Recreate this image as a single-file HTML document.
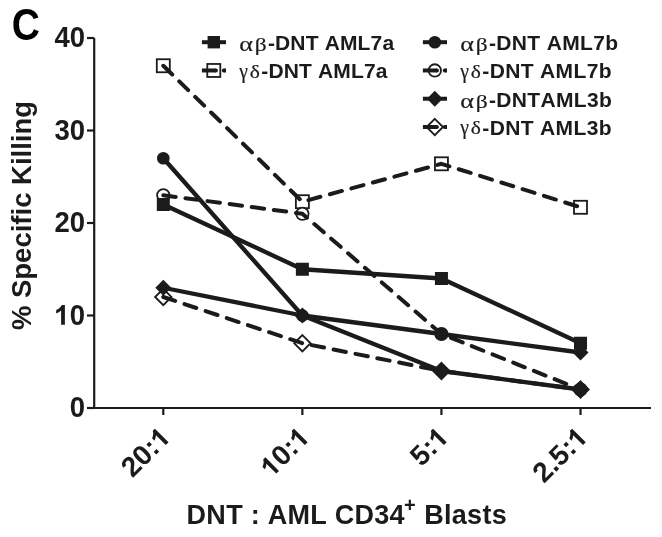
<!DOCTYPE html>
<html><head><meta charset="utf-8"><style>
html,body{margin:0;padding:0;background:#fff;}
svg{display:block;will-change:transform;}
text{fill:#1c1a1a;font-kerning:none;}
.b{font-family:"Liberation Sans",sans-serif;font-weight:bold;}
.g{font-family:"Liberation Serif",serif;font-weight:normal;stroke:#1c1a1a;stroke-width:0.2px;}
</style></head><body>
<svg width="662" height="537" viewBox="0 0 662 537">
<rect width="662" height="537" fill="#fff"/>
<text transform="translate(11.8,40.2) scale(0.95,1.1)" class="b" font-size="41" style="fill:#000">C</text>
<text transform="translate(30.5,215.5) rotate(-90)" text-anchor="middle" class="b" font-size="27.5">% Specific Killing</text>
<path d="M94.2 38 V408 H651" fill="none" stroke="#1c1a1a" stroke-width="2.2"/><line x1="87" y1="408.00" x2="94.2" y2="408.00" stroke="#1c1a1a" stroke-width="2.2"/><line x1="87" y1="315.50" x2="94.2" y2="315.50" stroke="#1c1a1a" stroke-width="2.2"/><line x1="87" y1="223.00" x2="94.2" y2="223.00" stroke="#1c1a1a" stroke-width="2.2"/><line x1="87" y1="130.50" x2="94.2" y2="130.50" stroke="#1c1a1a" stroke-width="2.2"/><line x1="87" y1="38.00" x2="94.2" y2="38.00" stroke="#1c1a1a" stroke-width="2.2"/><line x1="163.30" y1="408" x2="163.30" y2="415" stroke="#1c1a1a" stroke-width="2.2"/><line x1="302.37" y1="408" x2="302.37" y2="415" stroke="#1c1a1a" stroke-width="2.2"/><line x1="441.44" y1="408" x2="441.44" y2="415" stroke="#1c1a1a" stroke-width="2.2"/><line x1="580.51" y1="408" x2="580.51" y2="415" stroke="#1c1a1a" stroke-width="2.2"/>
<g transform="translate(85.0,417.20) scale(1,1.04)"><text x="-15.29" y="0" class="b" font-size="27.5">0</text></g><g transform="translate(85.0,324.70) scale(1,1.04)"><path d="M780 0H499V1018Q343 877 131 810V1056Q243 1092 374 1189Q505 1287 553 1409H780Z" transform="translate(-30.58,0) scale(0.013428,-0.013428)" fill="#1c1a1a"/><text x="-15.29" y="0" class="b" font-size="27.5">0</text></g><g transform="translate(85.0,232.20) scale(1,1.04)"><text x="-30.58" y="0" class="b" font-size="27.5">20</text></g><g transform="translate(85.0,139.70) scale(1,1.04)"><text x="-30.58" y="0" class="b" font-size="27.5">30</text></g><g transform="translate(85.0,47.20) scale(1,1.04)"><text x="-30.58" y="0" class="b" font-size="27.5">40</text></g>
<g transform="translate(172.00,438.8) rotate(-45) scale(1.0,1.0)"><text x="-56.03" y="0" class="b" font-size="28">20:</text><path d="M780 0H499V1018Q343 877 131 810V1056Q243 1092 374 1189Q505 1287 553 1409H780Z" transform="translate(-15.57,0) scale(0.013672,-0.013672)" fill="#1c1a1a"/></g><g transform="translate(311.07,438.8) rotate(-45) scale(1.0,1.0)"><path d="M780 0H499V1018Q343 877 131 810V1056Q243 1092 374 1189Q505 1287 553 1409H780Z" transform="translate(-56.03,0) scale(0.013672,-0.013672)" fill="#1c1a1a"/><text x="-40.46" y="0" class="b" font-size="28">0:</text><path d="M780 0H499V1018Q343 877 131 810V1056Q243 1092 374 1189Q505 1287 553 1409H780Z" transform="translate(-15.57,0) scale(0.013672,-0.013672)" fill="#1c1a1a"/></g><g transform="translate(450.14,438.8) rotate(-45) scale(1.0,1.0)"><text x="-40.46" y="0" class="b" font-size="28">5:</text><path d="M780 0H499V1018Q343 877 131 810V1056Q243 1092 374 1189Q505 1287 553 1409H780Z" transform="translate(-15.57,0) scale(0.013672,-0.013672)" fill="#1c1a1a"/></g><g transform="translate(589.21,438.8) rotate(-45) scale(1.0,1.0)"><text x="-63.81" y="0" class="b" font-size="28">2.5:</text><path d="M780 0H499V1018Q343 877 131 810V1056Q243 1092 374 1189Q505 1287 553 1409H780Z" transform="translate(-15.57,0) scale(0.013672,-0.013672)" fill="#1c1a1a"/></g>
<text x="186.6" y="523.5" class="b" font-size="27" letter-spacing="0.27">DNT : AML CD34</text><text x="403.9" y="512.4" class="b" font-size="20">+</text><text x="424.2" y="523.5" class="b" font-size="27" letter-spacing="0.3">Blasts</text>
<line x1="201.9" y1="42.2" x2="226.0" y2="42.2" stroke="#1c1a1a" stroke-width="4.0"/><rect x="207.60" y="36.00" width="12.4" height="12.4" fill="#1c1a1a"/><text transform="translate(239.20,51.00) scale(1.243,0.99)" class="g" font-size="21">α</text><text transform="translate(254.70,51.00) scale(1.114,0.91)" class="g" font-size="21">β</text><text x="267.90" y="50.10" class="b" font-size="21" letter-spacing="0.15">-DNT AML7a</text><rect x="207.30" y="63.97" width="13.0" height="13.0" fill="#fff" stroke="#1c1a1a" stroke-width="1.8"/><path d="M201.9 70.47H215.9" stroke="#1c1a1a" stroke-width="4.0" stroke-linecap="butt"/><circle cx="215.9" cy="70.47" r="2.0" fill="#1c1a1a"/><path d="M223.8 70.47H226.0" stroke="#1c1a1a" stroke-width="4.0"/><circle cx="223.8" cy="70.47" r="2.0" fill="#1c1a1a"/><text transform="translate(239.30,77.67) scale(0.929,1.005)" class="g" font-size="21">γ</text><text transform="translate(249.70,77.67) scale(1.024,0.895)" class="g" font-size="21">δ</text><text x="261.30" y="78.37" class="b" font-size="21" letter-spacing="0.15">-DNT AML7a</text><line x1="422.9" y1="42.2" x2="447.0" y2="42.2" stroke="#1c1a1a" stroke-width="4.0"/><circle cx="434.80" cy="42.20" r="6.3" fill="#1c1a1a"/><text transform="translate(460.20,51.00) scale(1.243,0.99)" class="g" font-size="21">α</text><text transform="translate(475.70,51.00) scale(1.114,0.91)" class="g" font-size="21">β</text><text x="488.90" y="50.10" class="b" font-size="21" letter-spacing="0.36">-DNT AML7b</text><circle cx="434.80" cy="70.47" r="6.2" fill="#fff" stroke="#1c1a1a" stroke-width="1.8"/><path d="M422.9 70.47H436.9" stroke="#1c1a1a" stroke-width="4.0" stroke-linecap="butt"/><circle cx="436.9" cy="70.47" r="2.0" fill="#1c1a1a"/><path d="M444.8 70.47H447.0" stroke="#1c1a1a" stroke-width="4.0"/><circle cx="444.8" cy="70.47" r="2.0" fill="#1c1a1a"/><text transform="translate(460.30,77.67) scale(0.929,1.005)" class="g" font-size="21">γ</text><text transform="translate(470.70,77.67) scale(1.024,0.895)" class="g" font-size="21">δ</text><text x="482.30" y="78.37" class="b" font-size="21" letter-spacing="0.36">-DNT AML7b</text><line x1="422.9" y1="98.74000000000001" x2="447.0" y2="98.74000000000001" stroke="#1c1a1a" stroke-width="4.0"/><path d="M434.80 90.84L442.70 98.74L434.80 106.64L426.90 98.74Z" fill="#1c1a1a"/><text transform="translate(460.20,107.54) scale(1.243,0.99)" class="g" font-size="21">α</text><text transform="translate(475.70,107.54) scale(1.114,0.91)" class="g" font-size="21">β</text><text x="488.90" y="106.64" class="b" font-size="21" letter-spacing="0.36">-DNTAML3b</text><path d="M434.80 118.81L443.00 127.01L434.80 135.21L426.60 127.01Z" fill="#fff" stroke="#1c1a1a" stroke-width="1.8"/><path d="M422.9 127.01H436.9" stroke="#1c1a1a" stroke-width="4.0" stroke-linecap="butt"/><circle cx="436.9" cy="127.01" r="2.0" fill="#1c1a1a"/><path d="M444.8 127.01H447.0" stroke="#1c1a1a" stroke-width="4.0"/><circle cx="444.8" cy="127.01" r="2.0" fill="#1c1a1a"/><text transform="translate(460.30,134.21) scale(0.929,1.005)" class="g" font-size="21">γ</text><text transform="translate(470.70,134.21) scale(1.024,0.895)" class="g" font-size="21">δ</text><text x="482.30" y="134.91" class="b" font-size="21" letter-spacing="0.36">-DNT AML3b</text>
<rect x="156.80" y="59.25" width="13.0" height="13.0" fill="#fff" stroke="#1c1a1a" stroke-width="1.8"/><rect x="295.87" y="195.22" width="13.0" height="13.0" fill="#fff" stroke="#1c1a1a" stroke-width="1.8"/><rect x="434.94" y="157.30" width="13.0" height="13.0" fill="#fff" stroke="#1c1a1a" stroke-width="1.8"/><rect x="574.01" y="200.78" width="13.0" height="13.0" fill="#fff" stroke="#1c1a1a" stroke-width="1.8"/><circle cx="163.30" cy="195.25" r="6.2" fill="#fff" stroke="#1c1a1a" stroke-width="1.8"/><circle cx="302.37" cy="213.75" r="6.2" fill="#fff" stroke="#1c1a1a" stroke-width="1.8"/><circle cx="441.44" cy="334.00" r="6.2" fill="#fff" stroke="#1c1a1a" stroke-width="1.8"/><circle cx="580.51" cy="389.50" r="6.2" fill="#fff" stroke="#1c1a1a" stroke-width="1.8"/><path d="M163.30 288.80L171.50 297.00L163.30 305.20L155.10 297.00Z" fill="#fff" stroke="#1c1a1a" stroke-width="1.8"/><path d="M302.37 335.05L310.57 343.25L302.37 351.45L294.17 343.25Z" fill="#fff" stroke="#1c1a1a" stroke-width="1.8"/><path d="M441.44 362.80L449.64 371.00L441.44 379.20L433.24 371.00Z" fill="#fff" stroke="#1c1a1a" stroke-width="1.8"/><path d="M580.51 381.30L588.71 389.50L580.51 397.70L572.31 389.50Z" fill="#fff" stroke="#1c1a1a" stroke-width="1.8"/>
<polyline points="163.30,65.75 302.37,201.72 441.44,163.80 580.51,207.28" fill="none" stroke="#1c1a1a" stroke-width="4.0" stroke-dasharray="12.5 9.8" stroke-linecap="round" stroke-linejoin="round"/><polyline points="163.30,195.25 302.37,213.75 441.44,334.00 580.51,389.50" fill="none" stroke="#1c1a1a" stroke-width="4.0" stroke-dasharray="12.5 9.8" stroke-linecap="round" stroke-linejoin="round"/><polyline points="163.30,297.00 302.37,343.25 441.44,371.00 580.51,389.50" fill="none" stroke="#1c1a1a" stroke-width="4.0" stroke-dasharray="12.5 9.8" stroke-linecap="round" stroke-linejoin="round"/><polyline points="163.30,204.50 302.37,269.25 441.44,278.50 580.51,343.25" fill="none" stroke="#1c1a1a" stroke-width="4.3" stroke-linejoin="round"/><polyline points="163.30,158.25 302.37,315.50 441.44,371.00 580.51,389.50" fill="none" stroke="#1c1a1a" stroke-width="4.3" stroke-linejoin="round"/><polyline points="163.30,287.75 302.37,315.50 441.44,334.00 580.51,352.50" fill="none" stroke="#1c1a1a" stroke-width="4.3" stroke-linejoin="round"/>
<rect x="156.80" y="198.00" width="13.0" height="13.0" fill="#1c1a1a"/><rect x="295.87" y="262.75" width="13.0" height="13.0" fill="#1c1a1a"/><rect x="434.94" y="272.00" width="13.0" height="13.0" fill="#1c1a1a"/><rect x="574.01" y="336.75" width="13.0" height="13.0" fill="#1c1a1a"/><circle cx="163.30" cy="158.25" r="6.3" fill="#1c1a1a"/><circle cx="302.37" cy="315.50" r="6.3" fill="#1c1a1a"/><circle cx="441.44" cy="334.00" r="6.3" fill="#1c1a1a"/><circle cx="580.51" cy="389.50" r="6.3" fill="#1c1a1a"/><path d="M163.30 279.75L171.30 287.75L163.30 295.75L155.30 287.75Z" fill="#1c1a1a"/><path d="M302.37 307.50L310.37 315.50L302.37 323.50L294.37 315.50Z" fill="#1c1a1a"/><path d="M441.44 363.00L449.44 371.00L441.44 379.00L433.44 371.00Z" fill="#1c1a1a"/><path d="M580.51 344.50L588.51 352.50L580.51 360.50L572.51 352.50Z" fill="#1c1a1a"/><path d="M580.51 381.50L588.51 389.50L580.51 397.50L572.51 389.50Z" fill="#1c1a1a"/>
</svg>
</body></html>
